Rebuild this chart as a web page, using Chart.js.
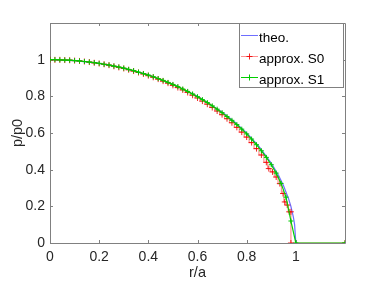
<!DOCTYPE html>
<html><head><meta charset="utf-8">
<script src="https://cdn.jsdelivr.net/npm/chart.js@4/dist/chart.umd.min.js"></script>
<style>html,body{margin:0;padding:0;background:#fff}#wrap{width:382px;height:286px}</style>
</head><body><div id="wrap"><canvas id="c" width="382" height="286"></canvas></div>
<script>
// ---- data ----
const seriesLabels = ['theo.', 'approx. S0', 'approx. S1'];
const xTickValues = [0, 0.2, 0.4, 0.6, 0.8, 1];
const yTickValues = [0, 0.2, 0.4, 0.6, 0.8, 1];
const xTitle = 'r/a';
const yTitle = 'p/p0';

const rTheo = [0, 0.1, 0.2, 0.3, 0.4, 0.5, 0.6, 0.7, 0.75, 0.8, 0.85, 0.9, 0.93, 0.95, 0.97, 0.98, 0.99, 0.995, 1.0];
const pTheo = [1, 0.995, 0.98, 0.954, 0.917, 0.866, 0.8, 0.714, 0.661, 0.6, 0.527, 0.436, 0.368, 0.312, 0.243, 0.199, 0.141, 0.1, 0];

const rS0 = [0,0.02,0.04,0.06,0.08,0.10,0.12,0.14,0.16,0.18,0.20,0.22,0.24,0.26,0.28,0.30,0.32,0.34,0.36,0.38,0.40,0.42,0.44,0.46,0.48,0.50,0.52,0.54,0.56,0.58,0.60,0.62,0.64,0.66,0.68,0.70,0.72,0.74,0.76,0.78,0.80,0.82,0.84,0.86,0.88,0.89,0.905,0.92,0.935,0.948,0.955,0.965,0.973,0.98,0.98,1.2];
const pS0 = [1,0.999,0.999,0.998,0.997,0.995,0.993,0.990,0.987,0.983,0.979,0.975,0.970,0.964,0.958,0.952,0.945,0.938,0.930,0.922,0.913,0.904,0.894,0.883,0.872,0.860,0.848,0.835,0.821,0.806,0.791,0.774,0.757,0.739,0.720,0.700,0.678,0.656,0.631,0.605,0.578,0.548,0.515,0.480,0.440,0.406,0.388,0.360,0.324,0.270,0.224,0.207,0.170,0.170,0,0];

const rS1 = [0,0.02,0.04,0.06,0.08,0.10,0.12,0.14,0.16,0.18,0.20,0.22,0.24,0.26,0.28,0.30,0.32,0.34,0.36,0.38,0.40,0.42,0.44,0.46,0.48,0.50,0.52,0.54,0.56,0.58,0.60,0.62,0.64,0.66,0.68,0.70,0.72,0.74,0.76,0.78,0.80,0.82,0.84,0.86,0.88,0.90,0.92,0.94,0.96,0.98,1.0,1.2];
const pS1 = [1,1.0,0.999,0.998,0.997,0.995,0.993,0.990,0.987,0.984,0.980,0.975,0.971,0.965,0.960,0.954,0.947,0.940,0.932,0.924,0.916,0.907,0.897,0.887,0.876,0.865,0.853,0.840,0.827,0.813,0.798,0.782,0.766,0.748,0.730,0.711,0.690,0.669,0.646,0.621,0.595,0.567,0.536,0.503,0.467,0.427,0.381,0.325,0.250,0.120,0,0];

const toPts = (xs, ys) => xs.map((x, i) => ({x: x, y: ys[i]}));

const FONT = 'Liberation Sans, Arial, Helvetica, sans-serif';
const TXT = '#262626';
const FRAME = '#808080';

const styles = [
  {line: 'rgb(110,110,255)', marker: null},
  {line: 'rgba(255,70,70,0.6)', marker: 'rgba(240,0,0,0.85)'},
  {line: 'rgb(0,210,0)', marker: 'rgb(0,200,0)'}
];

const fmt = v => (v === 0 ? '0' : v === 1 ? '1' : v.toFixed(1));

const framePlugin = {
  id: 'frame',
  beforeDatasetsDraw(chart) {
    const {ctx, chartArea: a, scales} = chart;
    ctx.save();
    ctx.strokeStyle = FRAME;
    ctx.lineWidth = 1;
    ctx.beginPath();
    ctx.rect(Math.round(a.left) + 0.5, Math.round(a.top) + 0.5, Math.round(a.right - a.left), Math.round(a.bottom - a.top));
    ctx.stroke();
    ctx.beginPath();
    const L = 3;
    xTickValues.forEach(v => {
      const px = Math.round(scales.x.getPixelForValue(v)) + 0.5;
      ctx.moveTo(px, a.bottom); ctx.lineTo(px, a.bottom - L);
      ctx.moveTo(px, a.top); ctx.lineTo(px, a.top + L);
    });
    yTickValues.forEach(v => {
      const py = Math.round(scales.y.getPixelForValue(v)) + 0.5;
      ctx.moveTo(a.left, py); ctx.lineTo(a.left + L, py);
      ctx.moveTo(a.right, py); ctx.lineTo(a.right - L, py);
    });
    ctx.stroke();
    ctx.restore();
  },
  afterDatasetsDraw(chart) {
    const {ctx, chartArea: a} = chart;
    ctx.save();
    const bx = a.right - 106, by = a.top, bw = 104, bh = 64;
    ctx.fillStyle = '#fff';
    ctx.fillRect(bx + 0.5, by + 0.5, bw, bh);
    ctx.strokeStyle = FRAME;
    ctx.lineWidth = 1;
    ctx.strokeRect(Math.round(bx) + 0.5, Math.round(by) + 0.5, bw, bh);
    ctx.font = '13.5px ' + FONT;
    ctx.textBaseline = 'alphabetic';
    ctx.textAlign = 'left';
    seriesLabels.forEach((lab, i) => {
      const base = by + 18.5 + i * 21;
      const ly = Math.round(base - 7) + 0.5;
      ctx.strokeStyle = styles[i].line;
      ctx.beginPath(); ctx.moveTo(bx + 2, ly); ctx.lineTo(bx + 19, ly); ctx.stroke();
      if (styles[i].marker) {
        const cx = bx + 10.5;
        ctx.strokeStyle = styles[i].marker;
        ctx.beginPath();
        ctx.moveTo(cx, ly - 3); ctx.lineTo(cx, ly + 3);
        ctx.moveTo(cx - 3, ly); ctx.lineTo(cx + 3, ly);
        ctx.stroke();
      }
      ctx.fillStyle = '#000';
      ctx.fillText(lab, bx + 20, base);
    });
    ctx.restore();
  }
};

new Chart(document.getElementById('c'), {
  type: 'line',
  data: {
    datasets: [
      {label: seriesLabels[0], data: toPts(rTheo, pTheo), borderColor: styles[0].line, borderWidth: 1.2, pointRadius: 0, tension: 0, order: 2},
      {label: seriesLabels[1], data: toPts(rS0, pS0), borderColor: styles[1].line, borderWidth: 1.2, stepped: 'middle',
        pointStyle: 'cross', pointRadius: 3, pointBorderColor: styles[1].marker, pointBorderWidth: 1, order: 1},
      {label: seriesLabels[2], data: toPts(rS1, pS1), borderColor: styles[2].line, borderWidth: 1.2,
        pointStyle: 'cross', pointRadius: 2.5, pointBorderColor: styles[2].marker, pointBorderWidth: 1, order: 0}
    ]
  },
  options: {
    responsive: false,
    animation: false,
    devicePixelRatio: 1,
    layout: {padding: {top: 23, right: 37, left: 0, bottom: 0}},
    plugins: {legend: {display: false}, tooltip: {enabled: false}},
    elements: {point: {hitRadius: 0}},
    scales: {
      x: {
        type: 'linear', min: 0, max: 1.2,
        afterBuildTicks: s => { s.ticks = xTickValues.map(v => ({value: v})); },
        afterFit: s => { s.height = 43; },
        grid: {display: false, drawTicks: false}, border: {display: false},
        ticks: {callback: v => fmt(v), font: {family: FONT, size: 14}, color: TXT, padding: 6, maxRotation: 0, autoSkip: false},
        title: {display: true, text: xTitle, font: {family: FONT, size: 14.5}, color: TXT, padding: {top: 0, bottom: 4}}
      },
      y: {
        type: 'linear', min: 0, max: 1.2,
        afterBuildTicks: s => { s.ticks = yTickValues.map(v => ({value: v})); },
        afterFit: s => { s.width = 50; },
        grid: {display: false, drawTicks: false}, border: {display: false},
        ticks: {callback: v => fmt(v), font: {family: FONT, size: 14}, color: TXT, padding: 5, autoSkip: false},
        title: {display: true, text: yTitle, font: {family: FONT, size: 14.5}, color: TXT, padding: {top: 9, bottom: 0}}
      }
    }
  },
  plugins: [framePlugin]
});
</script>
</body></html>
